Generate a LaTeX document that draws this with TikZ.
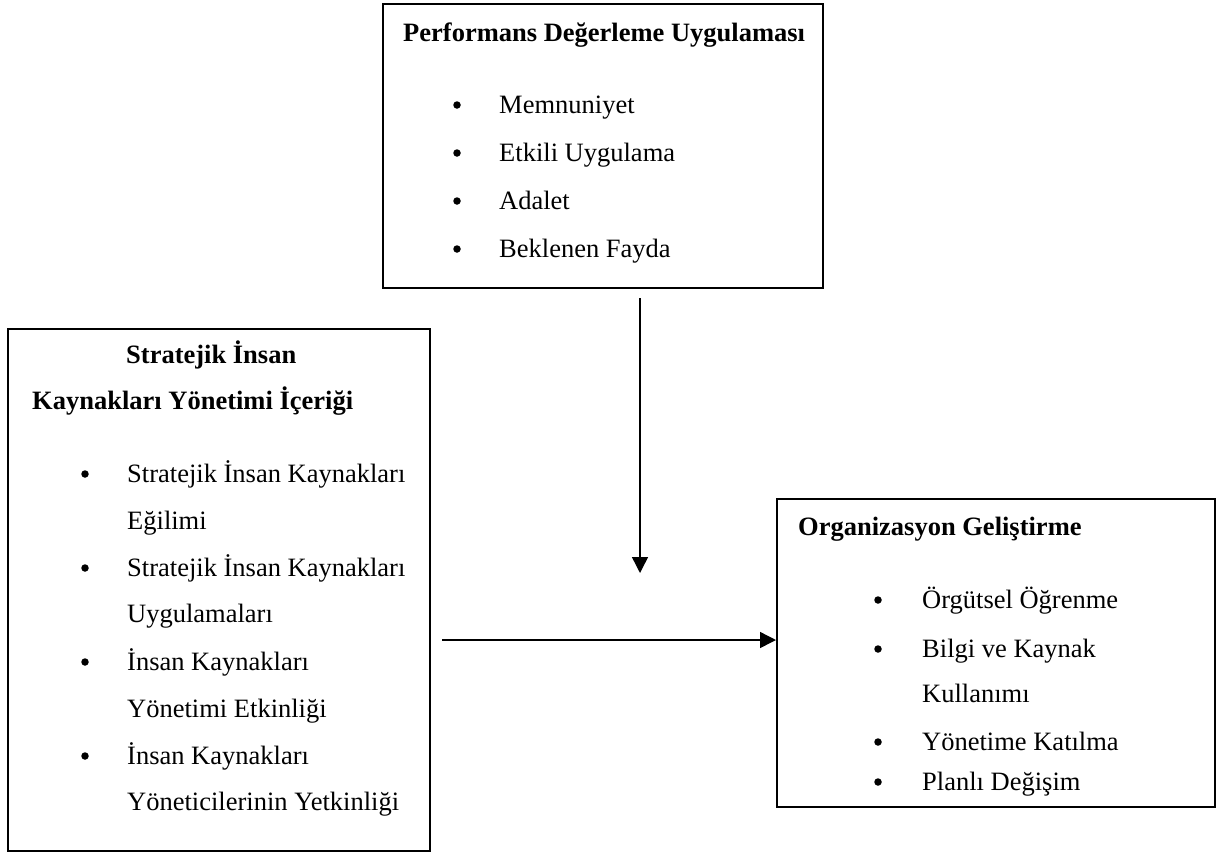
\documentclass[tikz,border=0pt]{standalone}
\usepackage{fontspec}
\setmainfont{Liberation Serif}
\usetikzlibrary{arrows.meta}
\begin{document}
\begin{tikzpicture}[x=1pt,y=-1pt,
  box/.style={draw,line width=1.6pt,rectangle,anchor=north west,inner sep=0pt},
  txt/.style={anchor=base west,inner sep=0pt,font=\fontsize{26.5}{30}\selectfont},
  ttl/.style={anchor=base west,inner sep=0pt,font=\fontsize{26.5}{30}\selectfont\bfseries},
  bul/.style={circle,fill=black,inner sep=0pt,minimum size=7.5pt},
  arr/.style={line width=1.4pt,-{Triangle[length=16pt,width=16pt]}}]
\useasboundingbox (0,0) rectangle (1217,852);
% top box
\node[box,minimum width=440pt,minimum height=284pt] (pdu) at (382,3) {};
\node[ttl] (pdut) at (403,41) {Performans Değerleme Uygulaması};
\node[bul] (pb1) at (457,105) {}; \node[txt] (p1) at (499,113) {Memnuniyet};
\node[bul] (pb2) at (457,153) {}; \node[txt] (p2) at (499,161) {Etkili Uygulama};
\node[bul] (pb3) at (457,201) {}; \node[txt] (p3) at (499,209) {Adalet};
\node[bul] (pb4) at (457,249) {}; \node[txt] (p4) at (499,257) {Beklenen Fayda};
% left box
\node[box,minimum width=422pt,minimum height=522pt] (sik) at (7,328) {};
\node[ttl] (sikt1) at (126,363) {Stratejik İnsan};
\node[ttl] (sikt2) at (32,409) {Kaynakları Yönetimi İçeriği};
\node[bul] (sb1) at (85,474) {}; \node[txt] (s1) at (127,482) {Stratejik İnsan Kaynakları};
\node[txt] (s1b) at (127,529) {Eğilimi};
\node[bul] (sb2) at (85,568) {}; \node[txt] (s2) at (127,576) {Stratejik İnsan Kaynakları};
\node[txt] (s2b) at (127,622) {Uygulamaları};
\node[bul] (sb3) at (85,662) {}; \node[txt] (s3) at (127,670) {İnsan Kaynakları};
\node[txt] (s3b) at (127,717) {Yönetimi Etkinliği};
\node[bul] (sb4) at (85,756) {}; \node[txt] (s4) at (127,764) {İnsan Kaynakları};
\node[txt] (s4b) at (127,810) {Yöneticilerinin Yetkinliği};
% right box
\node[box,minimum width=438pt,minimum height=308pt] (og) at (776,498) {};
\node[ttl] (ogt) at (798,535) {Organizasyon Geliştirme};
\node[bul] (ob1) at (878,600) {}; \node[txt] (o1) at (922,608) {Örgütsel Öğrenme};
\node[bul] (ob2) at (878,649) {}; \node[txt] (o2) at (922,657) {Bilgi ve Kaynak};
\node[txt] (o2b) at (922,702) {Kullanımı};
\node[bul] (ob3) at (878,742) {}; \node[txt] (o3) at (922,750) {Yönetime Katılma};
\node[bul] (ob4) at (878,782) {}; \node[txt] (o4) at (922,790) {Planlı Değişim};
% arrows
\coordinate (v1) at (640,298);
\coordinate (v2) at (640,573);
\coordinate (h1) at (442,640);
\draw[arr] (v1) -- (v2);
\draw[arr] (h1) -- (og.west |- h1);
\end{tikzpicture}
\end{document}
